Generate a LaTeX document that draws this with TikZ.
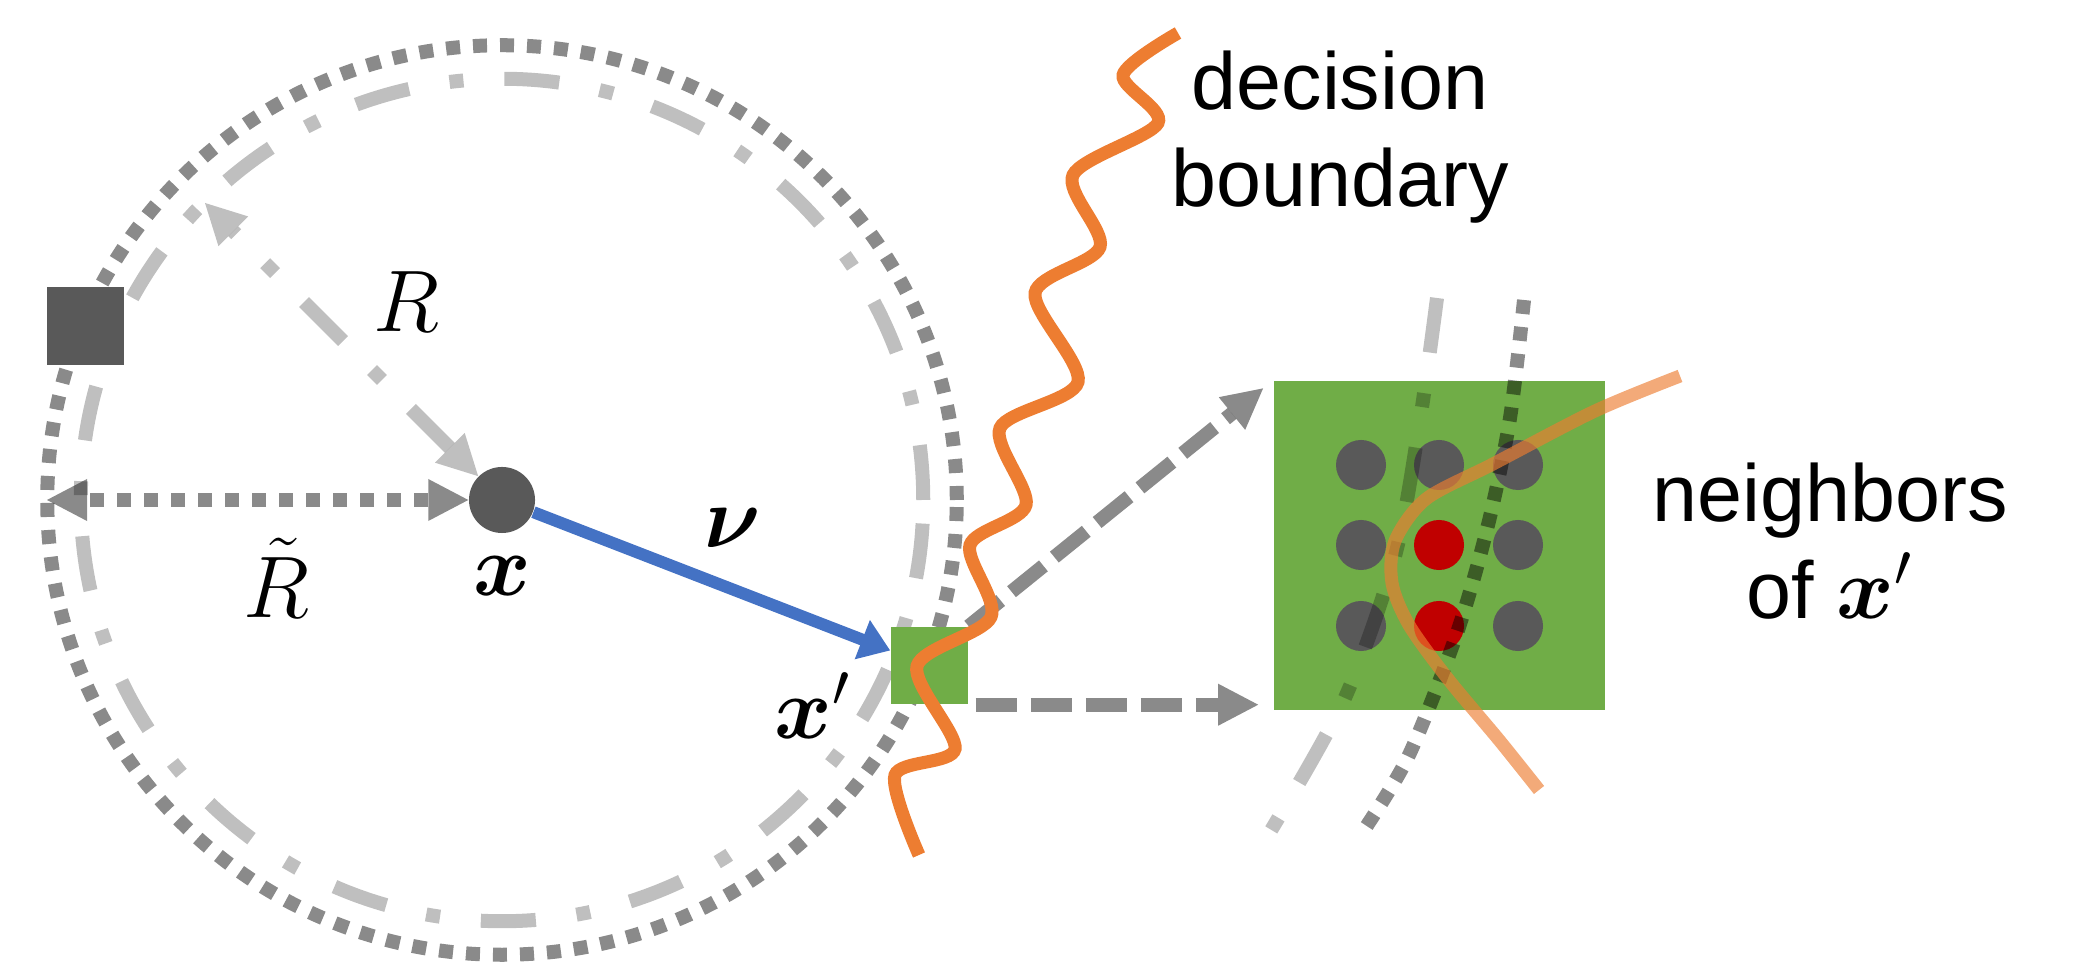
\documentclass[tikz,border=0pt]{standalone}
\usepackage{amsmath}
\usepackage{amssymb}
\usepackage{fontspec}
\setsansfont{Liberation Sans}
\usetikzlibrary{arrows.meta,positioning,calc}
\definecolor{pointgray}{RGB}{89,89,89}
\definecolor{boxgreen}{RGB}{112,173,71}
\definecolor{vecblue}{RGB}{68,114,196}
\definecolor{boundorange}{RGB}{237,125,49}
\definecolor{advred}{RGB}{192,0,0}
\tikzset{
    dotcirc/.style={
        draw=black,
        opacity=0.46,
        line width=0.14cm,
        dash pattern=on 0.14cm off 0.13cm,
    },
    dashdotcirc/.style={
        draw=black,
        opacity=0.25,
        line width=0.14cm,
        dash pattern=on 0.55cm off 0.41cm on 0.14cm off 0.41cm,
    },
    dasharrow/.style={
        draw=black,
        opacity=0.46,
        line width=0.14cm,
        dash pattern=on 0.41cm off 0.14cm,
    },
    point/.style={
        circle,
        fill=pointgray,
        inner sep=0pt,
        minimum size=0.66cm,
    },
    neighbor/.style={
        circle,
        fill=pointgray,
        inner sep=0pt,
        minimum size=0.5cm,
    },
    advneighbor/.style={
        neighbor,
        fill=advred,
    },
    sample/.style={
        rectangle,
        fill=boxgreen,
        inner sep=0pt,
        minimum size=0.77cm,
    },
    mathlabel/.style={
        inner sep=0pt,
        font=\fontsize{23}{28}\selectfont,
    },
    textlabel/.style={
        inner sep=0pt,
        align=center,
        font=\sffamily\fontsize{23}{27.6}\selectfont,
    },
    boundary/.style={
        draw=boundorange,
        line width=0.13cm,
    },
}

\begin{document}
\begin{tikzpicture}[x=0.01cm,y=-0.01cm,>={Triangle[length=0.4cm,width=0.42cm,line width=0pt]}]
    \useasboundingbox (0,0) rectangle (2085,962);
    \node [point] (x) at (502,500) {};
    \draw [dotcirc] (x.center) circle [radius=4.545cm];
    \draw [dashdotcirc] (x.center) circle [radius=4.21cm];
    \node [sample,fill=pointgray] (far) at (85.5,326) {};
    \coordinate (rend) at (205,203);
    \coordinate (rtend) at (47,500);
    \draw [dashdotcirc,<->] (x) -- (rend);
    \draw [dotcirc,<->] (x) -- (rtend);
    \node [mathlabel] (rlbl) at (406,302) {$R$};
    \node [mathlabel] (rtlbl) at (276,578) {$\tilde{R}$};
    \node [mathlabel,below=0.22cm of x] (xlbl) {$\boldsymbol{x}$};
    \node [sample] (xp) at (929.5,665.5) {};
    \draw [vecblue,line width=0.12cm,-{Triangle[length=0.3cm,width=0.4cm]}] (x) -- ($(xp.west)+(0,-15)$);
    \node [mathlabel] (nulbl) at (733,528) {$\boldsymbol{\nu}$};
    \node [mathlabel] (xplbl) at (813,706) {$\boldsymbol{x}'$};
    \node [sample,minimum width=3.31cm,minimum height=3.29cm] (nbox) at (1439.5,545.5) {};
    \draw [dasharrow,->,shorten >=0.13cm] (xp.north east) -- (nbox.north west);
    \draw [dasharrow,->,shorten <=0.07cm,shorten >=0.15cm] (xp.south east) -- (xp.south east -| nbox.west);
    \draw [boundary] plot [smooth,tension=0.5] coordinates {(1178,33) (1123,75) (1158,123) (1073,175) (1100,247) (1035,293) (1078,382) (1000,428) (1026,505) (970,545) (991,617) (917,666) (955,749) (895,775) (919,855)};
    \foreach \cx/\cy/\sty [count=\i] in {1361/465/neighbor,1439/465/neighbor,1518/465/neighbor,
        1361/545/neighbor,1439/545/advneighbor,1518/545/neighbor,
        1361/626/neighbor,1439/626/advneighbor,1518/626/neighbor}
        \node [\sty] (nb\i) at (\cx,\cy) {};
    \draw [dashdotcirc] plot [smooth] coordinates {(1437,298) (1420,420) (1395,556) (1344,700) (1270,832)};
    \draw [dotcirc] plot [smooth] coordinates {(1524,300) (1510,418) (1488,525) (1457,633) (1409,755) (1364,830)};
    \draw [boundary,opacity=0.65] plot [smooth] coordinates {(1680,376) (1595,411) (1493,464) (1426,499) (1395,541) (1392,583) (1409,625) (1448,679) (1499,740) (1539,790)};
    \node [textlabel] (dblbl) at (1340,137) {decision\\boundary};
    \node [textlabel] (nblbl) at (1830,541) {neighbors\\of $\boldsymbol{x}'$};
\end{tikzpicture}
\end{document}
